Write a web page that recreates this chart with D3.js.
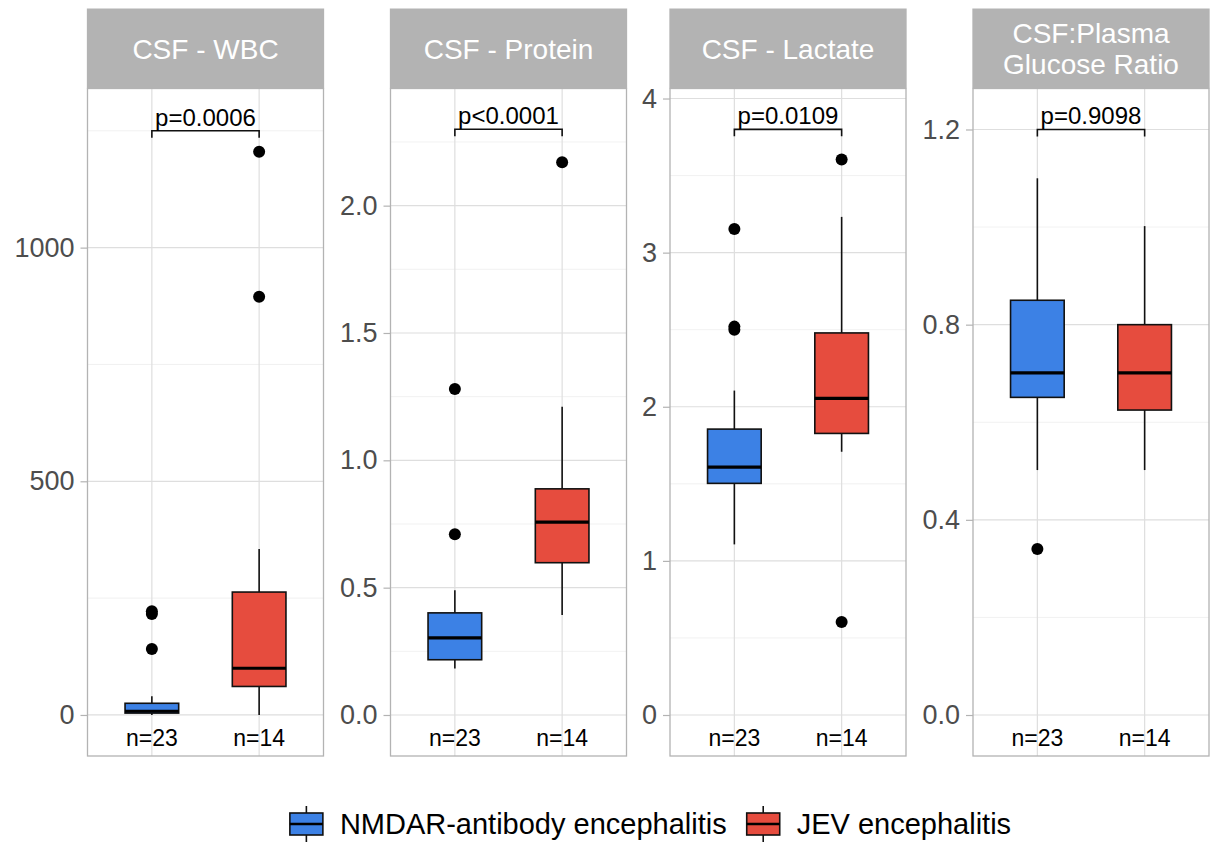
<!DOCTYPE html>
<html>
<head>
<meta charset="utf-8">
<script src="https://cdn.jsdelivr.net/npm/d3@7"></script>
<style>
  body { margin: 0; background: #fff; }
  text { font-family: "Liberation Sans", Arial, Helvetica, sans-serif; }
</style>
</head>
<body>
<svg id="chart" width="1218" height="843"></svg>
<script>
// ---- Data ----
const groups = ["NMDAR-antibody encephalitis", "JEV encephalitis"];
const groupN = [23, 14];
const groupColors = ["#3C81E5", "#E64C3E"];

const panelTitles = [["CSF - WBC"], ["CSF - Protein"], ["CSF - Lactate"], ["CSF:Plasma", "Glucose Ratio"]];

// Box summaries per group: [lower whisker, Q1, median, Q3, upper whisker]
const wbcBoxes = [[0, 4, 8, 25, 40], [0, 61, 100, 263, 355]];
const wbcOutliers = [[141, 216, 222], [895, 1205]];
const proteinBoxes = [[0.183, 0.217, 0.303, 0.401, 0.49], [0.393, 0.598, 0.757, 0.888, 1.21]];
const proteinOutliers = [[0.71, 1.28], [2.17]];
const lactateBoxes = [[1.107, 1.503, 1.608, 1.855, 2.105], [1.708, 1.827, 2.055, 2.479, 3.232]];
const lactateOutliers = [[2.5, 2.52, 3.153], [0.604, 3.604]];
const glucoseBoxes = [[0.502, 0.651, 0.701, 0.85, 1.10], [0.502, 0.625, 0.701, 0.80, 1.002]];
const glucoseOutliers = [[0.34], []];

const pLabels = ["p=0.0006", "p<0.0001", "p=0.0109", "p=0.9098"];
const bracketLevels = [1250, 2.30, 3.80, 1.20];

const majorTicks = [[0, 500, 1000], [0, 0.5, 1, 1.5, 2], [0, 1, 2, 3, 4], [0, 0.4, 0.8, 1.2]];
const minorTicks = [[250, 750, 1250], [0.25, 0.75, 1.25, 1.75, 2.25], [0.5, 1.5, 2.5, 3.5], [0.2, 0.6, 1.0]];
const tickFormats = ["d", ".1f", "d", ".1f"];
const yDomains = [[-87.8, 1340.5], [-0.161, 2.46], [-0.266, 4.065], [-0.084, 1.284]];

const allBoxes = [wbcBoxes, proteinBoxes, lactateBoxes, glucoseBoxes];
const allOutliers = [wbcOutliers, proteinOutliers, lactateOutliers, glucoseOutliers];

// ---- Layout ----
const panelLefts = [87.5, 390.5, 670, 973];
const panelW = 236;
const stripTop = 8.5, stripBottom = 88.5, panelBottom = 756;
const grey70 = "#B3B3B3";

const svg = d3.select("#chart");

panelTitles.forEach((title, i) => {
  const left = panelLefts[i];
  const g = svg.append("g");

  const x = d3.scaleLinear().domain([0.4, 2.6]).range([left, left + panelW]);
  const y = d3.scaleLinear().domain(yDomains[i]).range([panelBottom, stripBottom]);

  // panel background grid
  g.selectAll(".minor").data(minorTicks[i]).join("line")
    .attr("x1", left).attr("x2", left + panelW)
    .attr("y1", d => y(d)).attr("y2", d => y(d))
    .attr("stroke", "#EDEDED").attr("stroke-width", 0.8);
  g.selectAll(".major").data(majorTicks[i]).join("line")
    .attr("x1", left).attr("x2", left + panelW)
    .attr("y1", d => y(d)).attr("y2", d => y(d))
    .attr("stroke", "#DEDEDE").attr("stroke-width", 1.2);
  g.selectAll(".vgrid").data([1, 2]).join("line")
    .attr("x1", d => x(d)).attr("x2", d => x(d))
    .attr("y1", stripBottom).attr("y2", panelBottom)
    .attr("stroke", "#DEDEDE").attr("stroke-width", 1.2);

  // y axis
  const axis = d3.axisLeft(y).tickValues(majorTicks[i])
    .tickFormat(d3.format(tickFormats[i])).tickSize(7).tickPadding(6);
  const ax = g.append("g").attr("transform", `translate(${left},0)`).call(axis);
  ax.select(".domain").remove();
  ax.selectAll(".tick line").attr("stroke", grey70).attr("stroke-width", 1.2);
  ax.selectAll(".tick text").attr("fill", "#4D4D4D").style("font-size", "27px")
    .style("font-family", "'Liberation Sans', Arial, sans-serif");

  // boxes
  const boxW = 0.5;
  allBoxes[i].forEach((b, k) => {
    const cx = x(k + 1);
    const [lo, q1, med, q3, hi] = b;
    g.append("line").attr("x1", cx).attr("x2", cx).attr("y1", y(hi)).attr("y2", y(q3))
      .attr("stroke", "#111").attr("stroke-width", 1.6);
    g.append("line").attr("x1", cx).attr("x2", cx).attr("y1", y(q1)).attr("y2", y(lo))
      .attr("stroke", "#111").attr("stroke-width", 1.6);
    g.append("rect")
      .attr("x", x(k + 1 - boxW / 2)).attr("width", x(k + 1 + boxW / 2) - x(k + 1 - boxW / 2))
      .attr("y", y(q3)).attr("height", y(q1) - y(q3))
      .attr("fill", groupColors[k]).attr("stroke", "#111").attr("stroke-width", 1.6);
    g.append("line")
      .attr("x1", x(k + 1 - boxW / 2)).attr("x2", x(k + 1 + boxW / 2))
      .attr("y1", y(med)).attr("y2", y(med))
      .attr("stroke", "#000").attr("stroke-width", 3.2);
    g.selectAll(null).data(allOutliers[i][k]).join("circle")
      .attr("cx", cx).attr("cy", d => y(d)).attr("r", 6).attr("fill", "#000");
  });

  // significance bracket
  const by = y(bracketLevels[i]);
  g.append("path")
    .attr("d", `M${x(1)},${by + 7}V${by}H${x(2)}V${by + 7}`)
    .attr("fill", "none").attr("stroke", "#111").attr("stroke-width", 1.6);
  g.append("text").attr("x", (x(1) + x(2)) / 2).attr("y", by - 5)
    .attr("text-anchor", "middle").style("font-size", "24px").attr("fill", "#000")
    .text(pLabels[i]);

  // group counts
  groupN.forEach((n, k) => {
    g.append("text").attr("x", x(k + 1)).attr("y", panelBottom - 18)
      .attr("dy", "0.36em").attr("text-anchor", "middle")
      .style("font-size", "23px").attr("fill", "#000").text("n=" + n);
  });

  // panel border
  g.append("rect").attr("x", left).attr("y", stripBottom)
    .attr("width", panelW).attr("height", panelBottom - stripBottom)
    .attr("fill", "none").attr("stroke", grey70).attr("stroke-width", 1.3);

  // strip
  g.append("rect").attr("x", left - 0.65).attr("y", stripTop)
    .attr("width", panelW + 1.3).attr("height", stripBottom - stripTop)
    .attr("fill", grey70);
  const midY = (stripTop + stripBottom) / 2;
  const lineH = 31;
  title.forEach((line, j) => {
    g.append("text").attr("x", left + panelW / 2)
      .attr("y", midY + (j - (title.length - 1) / 2) * lineH)
      .attr("dy", "0.36em").attr("text-anchor", "middle")
      .style("font-size", "28px").attr("fill", "#fff").text(line);
  });
});

// ---- Legend ----
const legend = svg.append("g");
const keyW = 33, keyH = 22, keyGap = 17, itemGap = 20, legendY = 824, legendCx = 650.5;
const labels = groups.map(gname => legend.append("text")
  .attr("dy", "0.36em").style("font-size", "29px").attr("fill", "#000").text(gname));
const widths = labels.map(t => t.node().getComputedTextLength());
const total = 2 * (keyW + keyGap) + widths[0] + widths[1] + itemGap;
let cursor = legendCx - total / 2;
groups.forEach((gname, k) => {
  const kx = cursor;
  legend.append("line").attr("x1", kx + keyW / 2).attr("x2", kx + keyW / 2)
    .attr("y1", legendY - keyH / 2 - 7).attr("y2", legendY + keyH / 2 + 7)
    .attr("stroke", "#111").attr("stroke-width", 1.6);
  legend.append("rect").attr("x", kx).attr("y", legendY - keyH / 2)
    .attr("width", keyW).attr("height", keyH)
    .attr("fill", groupColors[k]).attr("stroke", "#111").attr("stroke-width", 1.6);
  legend.append("line").attr("x1", kx).attr("x2", kx + keyW)
    .attr("y1", legendY).attr("y2", legendY)
    .attr("stroke", "#000").attr("stroke-width", 2.4);
  labels[k].attr("x", kx + keyW + keyGap).attr("y", legendY);
  cursor = kx + keyW + keyGap + widths[k] + itemGap;
});
</script>
</body>
</html>
